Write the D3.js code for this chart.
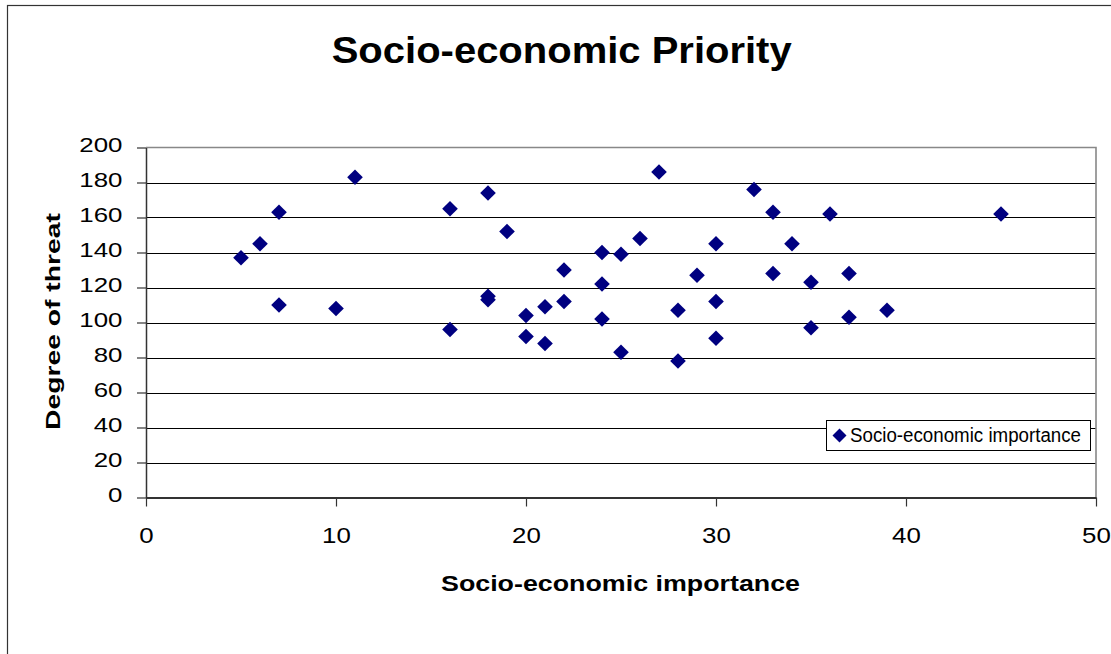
<!DOCTYPE html>
<html>
<head>
<meta charset="utf-8">
<script src="https://cdn.jsdelivr.net/npm/d3@7"></script>
<style>
  html, body { margin: 0; padding: 0; background: #fff; }
  svg { display: block; }
  text { font-family: "Liberation Sans", Arial, sans-serif; }
</style>
</head>
<body>
<svg id="chart" width="1111" height="654"></svg>
<script>
// Socio-economic importance (x) vs degree of threat (y)
const importance = [5, 6, 7, 7, 10, 11, 16, 16, 18, 18, 18, 19, 20, 20, 21, 21, 22, 22,
  24, 24, 24, 25, 25, 26, 27, 28, 28, 29, 30, 30, 30, 32, 33, 33, 34, 35, 35, 36, 37, 37, 39, 45];
const threat = [137, 145, 163, 110, 108, 183, 165, 96, 174, 115, 113, 152, 104, 92, 109, 88, 130, 112,
  140, 122, 102, 139, 83, 148, 186, 107, 78, 127, 145, 112, 91, 176, 163, 128, 145, 123, 97, 162, 128, 103, 107, 162];
const xTicks = [0, 10, 20, 30, 40, 50];
const yTicks = [0, 20, 40, 60, 80, 100, 120, 140, 160, 180, 200];
const seriesName = "Socio-economic importance";
const chartTitle = "Socio-economic Priority";
const xTitle = "Socio-economic importance";
const yTitle = "Degree of threat";

const svg = d3.select("#chart");
const W = 1111, H = 654;
const plot = { left: 146, top: 147.5, right: 1096, bottom: 497.5 };
const FONT = "'Liberation Sans', Arial, sans-serif";

// outer chart frame (runs past the right and bottom edges)
svg.append("rect")
  .attr("x", 7.5).attr("y", 5.5)
  .attr("width", W + 20).attr("height", H + 20)
  .attr("fill", "#fff").attr("stroke", "#333").attr("stroke-width", 1.2);

const x = d3.scaleLinear().domain([0, 50]).range([plot.left, plot.right]);
const y = d3.scaleLinear().domain([0, 200]).range([plot.bottom, plot.top]);

// horizontal gridlines
svg.append("g")
  .selectAll("line")
  .data(yTicks.filter(v => v > 0 && v < 200))
  .join("line")
  .attr("x1", plot.left).attr("x2", plot.right)
  .attr("y1", d => Math.round(y(d)) + 0.5).attr("y2", d => Math.round(y(d)) + 0.5)
  .attr("stroke", "#000").attr("stroke-width", 1);

// plot area border: grey top and right
svg.append("path")
  .attr("d", `M${plot.left},${plot.top}H${plot.right}V${plot.bottom}`)
  .attr("fill", "none").attr("stroke", "#888").attr("stroke-width", 1.6);

// wide digit labels: each digit takes a fixed advance
const digitWidth = 14.4;

// y axis
const yAxis = d3.axisLeft(y).tickValues(yTicks).tickSize(9).tickPadding(14).tickSizeOuter(0);
const gy = svg.append("g").attr("transform", `translate(${plot.left},0)`).call(yAxis);
gy.select(".domain").attr("stroke", "#333").attr("stroke-width", 1.5);
gy.selectAll(".tick line").attr("stroke", "#333").attr("stroke-width", 1.2);
gy.selectAll(".tick text")
  .attr("font-size", 20).attr("fill", "#000").attr("dy", "0.19em")
  .attr("x", -23.5)
  .attr("textLength", d => String(d).length * digitWidth)
  .attr("lengthAdjust", "spacingAndGlyphs")
  .style("font-family", FONT);

// x axis
const xAxis = d3.axisBottom(x).tickValues(xTicks).tickSize(9).tickPadding(18).tickSizeOuter(0);
const gx = svg.append("g").attr("transform", `translate(0,${plot.bottom})`).call(xAxis);
gx.select(".domain").attr("stroke", "#333").attr("stroke-width", 1.8);
gx.selectAll(".tick line").attr("stroke", "#333").attr("stroke-width", 1.2);
gx.selectAll(".tick text")
  .attr("font-size", 22).attr("fill", "#000")
  .attr("y", 45.2).attr("dy", 0)
  .attr("textLength", d => String(d).length * digitWidth)
  .attr("lengthAdjust", "spacingAndGlyphs")
  .style("font-family", FONT);

// points as diamonds
const diamond = d3.symbol().type(d3.symbolSquare).size(122);
svg.append("g")
  .selectAll("path")
  .data(importance.map((v, i) => [v, threat[i]]))
  .join("path")
  .attr("d", diamond)
  .attr("transform", d => `translate(${x(d[0])},${y(d[1])}) rotate(45)`)
  .attr("fill", "#000080");

// titles
svg.append("text")
  .attr("x", 561.7).attr("y", 63)
  .attr("text-anchor", "middle")
  .attr("font-size", 36).attr("font-weight", "bold")
  .attr("textLength", 460).attr("lengthAdjust", "spacingAndGlyphs")
  .text(chartTitle);

svg.append("text")
  .attr("x", 620.5).attr("y", 591)
  .attr("text-anchor", "middle")
  .attr("font-size", 22).attr("font-weight", "bold")
  .attr("textLength", 359).attr("lengthAdjust", "spacingAndGlyphs")
  .text(xTitle);

svg.append("text")
  .attr("transform", "translate(59.5,321.5) rotate(-90)")
  .attr("text-anchor", "middle")
  .attr("font-size", 20).attr("font-weight", "bold")
  .attr("textLength", 217).attr("lengthAdjust", "spacingAndGlyphs")
  .text(yTitle);

// legend
const lg = svg.append("g").attr("transform", "translate(826.5,420.5)");
lg.append("rect")
  .attr("width", 264).attr("height", 30)
  .attr("fill", "#fff").attr("stroke", "#000").attr("stroke-width", 1);
lg.append("path")
  .attr("d", d3.symbol().type(d3.symbolSquare).size(98))
  .attr("transform", "translate(13,15) rotate(45)")
  .attr("fill", "#000080");
lg.append("text")
  .attr("x", 23.5).attr("y", 21.3)
  .attr("font-size", 19.5)
  .attr("textLength", 231).attr("lengthAdjust", "spacingAndGlyphs")
  .text(seriesName);
</script>
</body>
</html>
